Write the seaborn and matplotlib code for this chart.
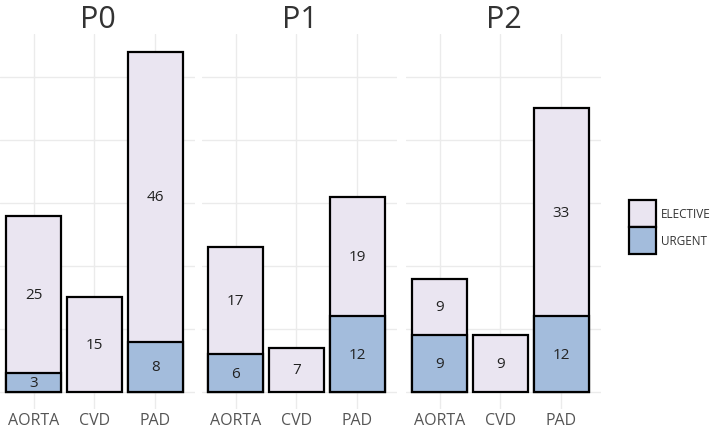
import numpy as np
import pandas as pd
import matplotlib
matplotlib.use("Agg")
import matplotlib.pyplot as plt
import seaborn as sns
from matplotlib.patches import Patch

# data
panels = ["P0", "P1", "P2"]
sites = ["AORTA", "CVD", "PAD"]
urgent = {"P0": [3, 0, 8], "P1": [6, 0, 12], "P2": [9, 0, 12]}
elective = {"P0": [25, 15, 46], "P1": [17, 7, 19], "P2": [9, 9, 33]}

col_elective = "#EAE5F1"
col_urgent = "#A3BCDC"

rows = []
for p in panels:
    for i, s in enumerate(sites):
        rows.append({"panel": p, "site": s, "URGENT": urgent[p][i], "ELECTIVE": elective[p][i]})
df = pd.DataFrame(rows)
df["total"] = df["URGENT"] + df["ELECTIVE"]

sns.set_style("whitegrid")
plt.rcParams["font.family"] = ["Open Sans", "DejaVu Sans"]

fig = plt.figure(figsize=(7.14, 4.35), dpi=100)
W, H = 714, 435
lefts = [0, 202, 406]
top, bottom = 35, 410

for k, p in enumerate(panels):
    ax = fig.add_axes([lefts[k] / W, (H - bottom) / H, 195 / W, (bottom - top) / H])
    d = df[df["panel"] == p]
    sns.barplot(data=d, x="site", y="total", order=sites, color=col_elective,
                saturation=1, edgecolor="black", linewidth=1.6, width=0.9, ax=ax, zorder=3)
    du = d[d["URGENT"] > 0]
    sns.barplot(data=du, x="site", y="URGENT", order=sites, color=col_urgent,
                saturation=1, edgecolor="black", linewidth=1.6, width=0.9, ax=ax, zorder=4)
    for i, s in enumerate(sites):
        u = urgent[p][i]
        e = elective[p][i]
        if u > 0:
            ax.text(i, u / 2, str(u), ha="center", va="center", fontsize=11, color="#222222", zorder=5)
        ax.text(i, u + e / 2, str(e), ha="center", va="center", fontsize=11, color="#222222", zorder=5)
    ax.set_xlim(-0.55, 2.65)
    ax.set_ylim(-2.7, 56.8)
    ax.set_yticks(np.arange(0, 60, 10))
    ax.set_yticklabels([])
    ax.set_xlabel("")
    ax.set_ylabel("")
    ax.grid(True, color="#EBEBEB", linewidth=1)
    for sp in ax.spines.values():
        sp.set_visible(False)
    ax.tick_params(axis="both", length=0)
    ax.tick_params(axis="x", labelsize=11.5, labelcolor="#555555", pad=2)
    ax.set_title(p, fontsize=22, color="#333333", pad=5)

handles = [Patch(facecolor=col_elective, edgecolor="black", linewidth=1.6, label="ELECTIVE"),
           Patch(facecolor=col_urgent, edgecolor="black", linewidth=1.6, label="URGENT")]
fig.legend(handles=handles, loc="center left", bbox_to_anchor=(618 / W, 1 - 228 / H), frameon=False,
           handlelength=2.3, handleheight=3.2, handletextpad=0.4, labelspacing=0.0,
           fontsize=8.5, labelcolor="#333333")

fig.savefig("out.png", dpi=100)
